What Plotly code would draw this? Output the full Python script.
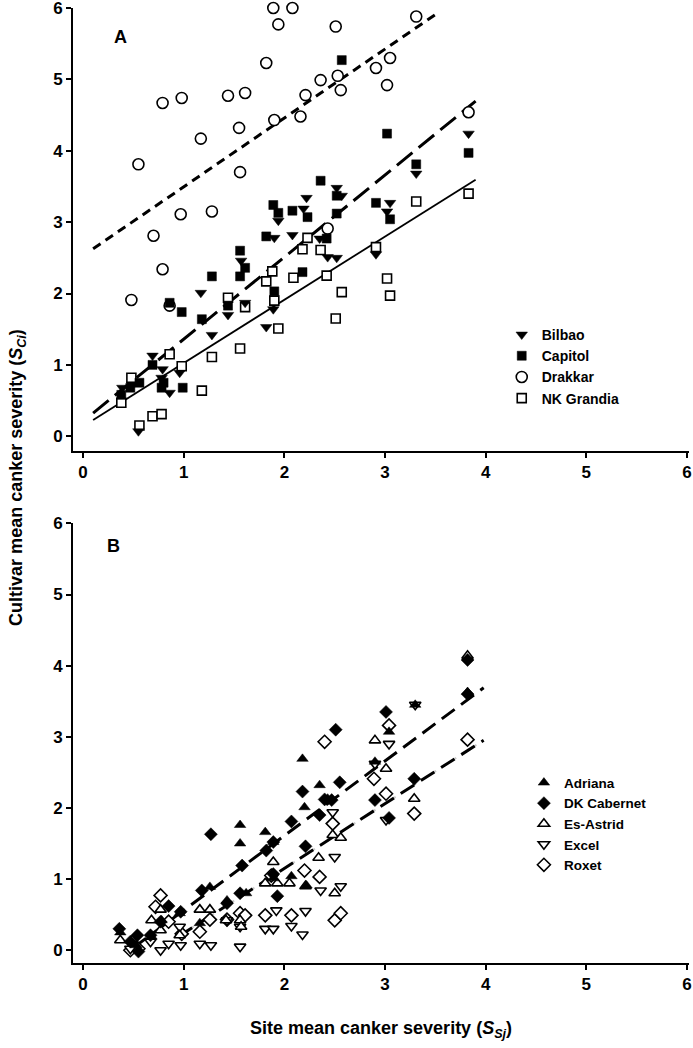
import plotly.graph_objects as go
import numpy as np

# ---------------- Panel A data ----------------
bilbao_x = [0.39,0.49,0.55,0.69,0.78,0.79,0.86,0.96,1.17,1.28,1.44,1.57,1.61,1.82,1.89,1.90,1.94,2.08,2.19,2.22,2.35,2.43,2.52,2.52,2.57,2.91,3.02,3.05,3.31,3.83]
bilbao_y = [0.68,0.72,0.07,1.13,0.82,0.94,0.61,0.89,2.01,1.42,1.70,2.46,1.87,1.53,1.78,2.78,3.02,2.82,3.19,3.34,2.77,2.51,2.50,3.48,3.37,2.55,3.15,3.27,3.68,4.24]

capitol_x = [0.38,0.47,0.56,0.69,0.78,0.80,0.86,0.98,0.99,1.18,1.28,1.44,1.56,1.56,1.61,1.82,1.89,1.90,1.94,2.08,2.18,2.23,2.36,2.42,2.52,2.52,2.57,2.91,3.02,3.05,3.31,3.83]
capitol_y = [0.58,0.68,0.75,1.00,0.68,0.75,1.87,1.74,0.68,1.64,2.24,1.83,2.60,2.24,2.36,2.80,3.24,2.03,3.13,3.16,2.30,3.07,3.58,2.77,3.37,3.12,5.27,3.27,4.24,3.04,3.81,3.97]

drakkar_x = [0.48,0.55,0.70,0.79,0.79,0.86,0.97,0.98,1.17,1.28,1.44,1.55,1.56,1.61,1.82,1.89,1.90,1.94,2.08,2.16,2.21,2.36,2.43,2.51,2.53,2.56,2.91,3.02,3.05,3.31,3.83]
drakkar_y = [1.91,3.81,2.81,4.67,2.34,1.83,3.11,4.74,4.17,3.15,4.77,4.32,3.70,4.81,5.23,6.00,4.43,5.77,6.00,4.48,4.78,4.99,2.91,5.74,5.05,4.85,5.16,4.92,5.30,5.88,4.54]

grandia_x = [0.38,0.48,0.56,0.69,0.78,0.86,0.98,1.18,1.28,1.44,1.56,1.61,1.82,1.88,1.90,1.94,2.09,2.18,2.23,2.36,2.42,2.51,2.57,2.91,3.02,3.05,3.31,3.83]
grandia_y = [0.47,0.82,0.15,0.28,0.31,1.15,0.98,0.64,1.11,1.94,1.23,1.81,2.17,2.31,1.90,1.51,2.22,2.62,2.78,2.61,2.25,1.65,2.02,2.65,2.21,1.97,3.29,3.40]

# regression lines panel A: (intercept, slope, x start, x end)
lineA_drakkar = (2.53, 0.965, 0.10, 3.54)
lineA_capitol = (0.21, 1.15, 0.10, 3.90)
lineA_grandia = (0.14, 0.886, 0.10, 3.90)

# ---------------- Panel B data ----------------
adriana_x = [0.37,0.53,0.68,0.78,0.96,1.16,1.26,1.43,1.56,1.56,1.62,1.81,1.89,1.89,2.07,2.18,2.20,2.22,2.35,2.43,2.90,3.04,3.30,3.82]
adriana_y = [0.25,0.07,0.19,0.42,0.52,0.38,0.89,0.70,1.76,1.50,0.80,1.66,1.52,1.01,1.04,2.69,2.01,0.91,2.32,2.13,2.65,3.07,3.45,3.63]

cabernet_x = [0.36,0.47,0.54,0.55,0.67,0.77,0.85,0.97,1.18,1.27,1.43,1.56,1.58,1.82,1.89,1.89,1.93,2.07,2.18,2.21,2.35,2.40,2.47,2.51,2.55,2.90,3.01,3.04,3.29,3.82,3.82]
cabernet_y = [0.30,0.12,0.21,-0.02,0.21,0.40,0.62,0.54,0.84,1.63,0.66,0.80,1.19,1.40,1.52,1.07,0.76,1.81,2.23,1.46,1.90,2.12,2.11,3.10,2.36,2.11,3.35,1.86,2.41,4.08,3.60]

astrid_x = [0.37,0.49,0.68,0.77,0.77,0.96,1.16,1.26,1.42,1.56,1.57,1.81,1.89,1.93,2.05,2.21,2.34,2.48,2.50,2.56,2.90,3.01,3.29,3.82]
astrid_y = [0.14,0.14,0.42,0.57,0.28,0.21,0.57,0.57,0.42,0.42,0.33,0.94,1.24,0.94,0.94,0.90,1.30,1.62,0.80,1.58,2.95,2.55,2.13,4.14]

excel_x = [0.47,0.67,0.77,0.85,0.96,0.97,1.16,1.27,1.43,1.56,1.56,1.81,1.89,1.92,2.07,2.18,2.21,2.36,2.48,2.50,2.56,2.90,3.01,3.04,3.30]
excel_y = [0.02,0.12,0.00,0.09,0.33,0.07,0.09,0.07,0.42,0.05,0.33,0.30,0.30,0.56,0.34,0.22,0.55,0.84,1.94,1.31,0.90,2.62,1.83,2.90,3.45]

roxet_x = [0.47,0.55,0.72,0.77,0.85,0.98,1.16,1.26,1.43,1.56,1.61,1.81,1.87,2.07,2.20,2.35,2.40,2.48,2.50,2.56,2.89,3.01,3.04,3.29,3.82]
roxet_y = [0.00,0.02,0.61,0.77,0.40,0.23,0.26,0.43,0.43,0.52,0.49,0.49,1.05,0.49,1.12,1.03,2.93,1.78,0.42,0.52,2.41,2.20,3.16,1.92,2.96]

lineB_upper = (-0.49, 1.05, 0.50, 3.98)
lineB_lower = (-0.67, 0.91, 0.95, 3.98)

x_ticks = [0, 1, 2, 3, 4, 5, 6]
y_ticks = [0, 1, 2, 3, 4, 5, 6]

FONT = "Arial, Liberation Sans, sans-serif"

fig = go.Figure()

def reg_line(params, xa, ya, dash, width, color="black"):
    b0, b1, x0, x1 = params
    xs = np.array([x0, x1])
    fig.add_trace(go.Scatter(x=xs, y=b0 + b1 * xs, mode="lines", xaxis=xa, yaxis=ya,
                             line=dict(color=color, width=width, dash=dash),
                             showlegend=False, hoverinfo="skip"))

# Panel A lines
reg_line(lineA_drakkar, "x", "y", "9px,6px", 3)
reg_line(lineA_capitol, "x", "y", "20px,8px", 3)
reg_line(lineA_grandia, "x", "y", "solid", 1.8)

# Panel B lines
reg_line(lineB_lower, "x2", "y2", "2px,6px", 2, "#c8c8c8")
reg_line(lineB_upper, "x2", "y2", "16px,8px", 3)
reg_line(lineB_lower, "x2", "y2", "16px,8px", 3)

def pts(x, y, name, symbol, size, xa, ya, legend, open_=False):
    if open_:
        marker = dict(symbol=symbol, size=size, color="white",
                      line=dict(color="black", width=1.6))
    else:
        marker = dict(symbol=symbol, size=size, color="black",
                      line=dict(color="black", width=0.5))
    fig.add_trace(go.Scatter(x=x, y=y, mode="markers", name=name, xaxis=xa, yaxis=ya,
                             marker=marker, legend=legend, cliponaxis=False))

pts(grandia_x, grandia_y, "NK Grandia", "square", 9, "x", "y", "legend", True)
pts(drakkar_x, drakkar_y, "Drakkar", "circle", 11, "x", "y", "legend", True)
pts(capitol_x, capitol_y, "Capitol", "square", 9, "x", "y", "legend")
pts(bilbao_x, bilbao_y, "Bilbao", "triangle-down", 10, "x", "y", "legend")

pts(roxet_x, roxet_y, "Roxet", "diamond", 10, "x2", "y2", "legend2", True)
pts(excel_x, excel_y, "Excel", "triangle-down", 10, "x2", "y2", "legend2", True)
pts(astrid_x, astrid_y, "Es-Astrid", "triangle-up", 10, "x2", "y2", "legend2", True)
pts(cabernet_x, cabernet_y, "DK Cabernet", "diamond", 10, "x2", "y2", "legend2")
pts(adriana_x, adriana_y, "Adriana", "triangle-up", 10, "x2", "y2", "legend2")

axis_common = dict(showline=True, linecolor="black", linewidth=2, ticks="outside",
                   ticklen=5, tickwidth=1.5, tickcolor="black", showgrid=False,
                   zeroline=False, automargin=False, ticklabeloverflow="allow",
                   tickfont=dict(family=FONT, size=17, color="black", weight="bold"),
                   mirror=False)

fig.update_layout(
    width=693, height=1048,
    margin=dict(l=73, r=4, t=8, b=85, autoexpand=False),
    paper_bgcolor="white", plot_bgcolor="white",
    font=dict(family=FONT, color="black"),
    xaxis=dict(domain=[0, 1], range=[-0.1, 6.02], tickvals=x_ticks, anchor="y", **axis_common),
    yaxis=dict(domain=[0.5366, 1], range=[-0.2, 6.0], tickvals=y_ticks, anchor="x", **axis_common),
    xaxis2=dict(domain=[0, 1], range=[-0.1, 6.02], tickvals=x_ticks, anchor="y2", **axis_common),
    yaxis2=dict(domain=[0, 0.4603], range=[-0.18, 6.0], tickvals=y_ticks, anchor="x2", **axis_common),
    legend=dict(x=0.696, y=0.6744, xanchor="left", yanchor="top", traceorder="reversed",
                font=dict(family=FONT, size=14, color="black", weight="bold"),
                bgcolor="rgba(0,0,0,0)", tracegroupgap=0, itemwidth=30),
    legend2=dict(x=0.732, y=0.2049, xanchor="left", yanchor="top", traceorder="reversed",
                 font=dict(family=FONT, size=13.5, color="black", weight="bold"),
                 bgcolor="rgba(0,0,0,0)", tracegroupgap=0, itemwidth=30),
    annotations=[
        dict(text="A", x=0.0763, y=0.9697, xref="paper", yref="paper", showarrow=False,
             xanchor="center", yanchor="middle", font=dict(family=FONT, size=18, weight="bold")),
        dict(text="B", x=0.065, y=0.437, xref="paper", yref="paper", showarrow=False,
             xanchor="center", yanchor="middle", font=dict(family=FONT, size=18, weight="bold")),
        dict(text="Cultivar mean canker severity (<i>S<sub>Ci</sub></i>)", x=-0.0893, y=0.509,
             xref="paper", yref="paper", showarrow=False, textangle=-90,
             xanchor="center", yanchor="middle", font=dict(family=FONT, size=18, weight="bold")),
        dict(text="Site mean canker severity (<i>S<sub>Sj</sub></i>)", x=0.5, y=-0.070,
             xref="paper", yref="paper", showarrow=False,
             xanchor="center", yanchor="middle", font=dict(family=FONT, size=18, weight="bold")),
    ],
)

fig.write_html("out.html", config={"displayModeBar": False},
               post_script="document.body.style.margin='0';document.body.style.padding='0';")
